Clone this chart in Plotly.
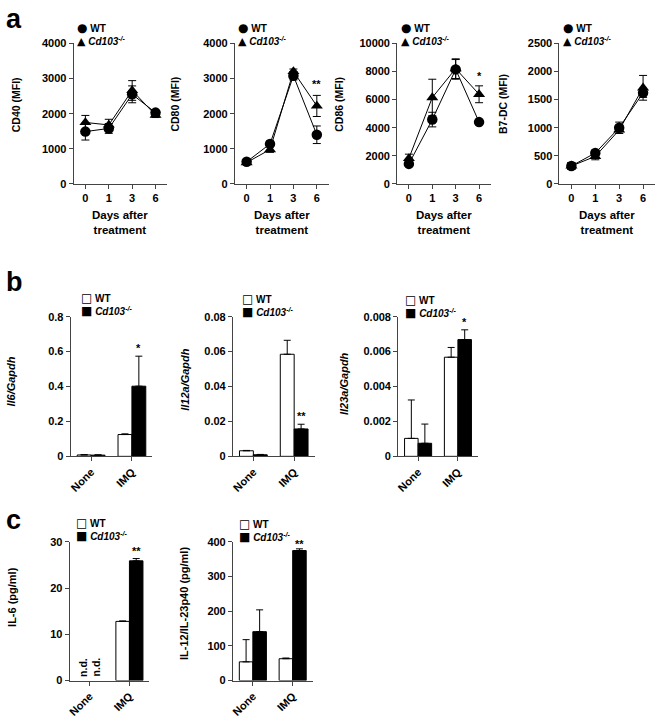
import plotly.graph_objects as go

# ---------------- data ----------------
days = ["0", "1", "3", "6"]
groups = ["None", "IMQ"]

cd40_wt = [1490, 1580, 2550, 2030]
cd40_wt_err = [240, 140, 240, 60]
cd40_ko = [1750, 1680, 2660, 1960]
cd40_ko_err = [200, 160, 280, 70]

cd80_wt = [630, 1140, 3080, 1400]
cd80_wt_err = [60, 80, 120, 250]
cd80_ko = [610, 980, 3200, 2220]
cd80_ko_err = [60, 80, 70, 300]

cd86_wt = [1430, 4580, 8150, 4400]
cd86_wt_err = [150, 520, 700, 100]
cd86_ko = [1820, 6150, 8200, 6380]
cd86_ko_err = [300, 1300, 700, 600]

b7dc_wt = [320, 550, 1000, 1620]
b7dc_wt_err = [60, 50, 100, 80]
b7dc_ko = [320, 490, 960, 1710]
b7dc_ko_err = [60, 60, 60, 220]

il6_wt = [0.008, 0.125]
il6_wt_err = [0.002, 0.004]
il6_ko = [0.007, 0.402]
il6_ko_err = [0.002, 0.172]

il12a_wt = [0.0032, 0.0585]
il12a_wt_err = [0.0002, 0.0080]
il12a_ko = [0.0009, 0.0157]
il12a_ko_err = [0.0002, 0.0027]

il23a_wt = [0.00103, 0.00568]
il23a_wt_err = [0.0022, 0.00056]
il23a_ko = [0.00075, 0.00669]
il23a_ko_err = [0.0011, 0.00056]

il6p_wt = [None, 12.8]
il6p_wt_err = [0, 0.1]
il6p_ko = [None, 25.9]
il6p_ko_err = [0, 0.5]

il12p_wt = [54, 63]
il12p_wt_err = [64, 2]
il12p_ko = [141, 375]
il12p_ko_err = [63, 5]

ticks_cd40 = [0, 1000, 2000, 3000, 4000]
ticks_cd86 = [0, 2000, 4000, 6000, 8000, 10000]
ticks_b7dc = [0, 500, 1000, 1500, 2000, 2500]
ticks_il6 = [0, 0.2, 0.4, 0.6, 0.8]
ticklab_il6 = ["0", "0.2", "0.4", "0.6", "0.8"]
ticks_il12a = [0, 0.02, 0.04, 0.06, 0.08]
ticklab_il12a = ["0", "0.02", "0.04", "0.06", "0.08"]
ticks_il23a = [0, 0.002, 0.004, 0.006, 0.008]
ticklab_il23a = ["0", "0.002", "0.004", "0.006", "0.008"]
ticks_il6p = [0, 10, 20, 30]
ticks_il12p = [0, 100, 200, 300, 400]

ytitles_line = ["CD40 (MFI)", "CD80 (MFI)", "CD86 (MFI)", "B7-DC (MFI)"]
ytitles_b = ["<i>Il6/Gapdh</i>", "<i>Il12a/Gapdh</i>", "<i>Il23a/Gapdh</i>"]
ytitles_c = ["IL-6 (pg/ml)", "IL-12/IL-23p40 (pg/ml)"]
wt_label = "WT"
ko_label = "<i>Cd103<sup>-/-</sup></i>"

# ---------------- layout helpers ----------------
W, H = 658, 719
FONT = "Liberation Sans, Arial, Helvetica, sans-serif"
AX = "#444444"


def xd(a, b):
    return [a / W, b / W]


def yd(top, bottom):
    return [1 - bottom / H, 1 - top / H]


def px(x):
    return x / W


def py(y):
    return 1 - y / H


def glyph(ch, size):
    return "<span style='font-family:DejaVu Sans;font-size:%dpx'>%s</span>" % (size, ch)


fig = go.Figure()
layout = dict(
    width=W, height=H, margin=dict(l=0, r=0, t=0, b=0),
    paper_bgcolor="white", plot_bgcolor="white",
    font=dict(family=FONT, size=11, color="black", weight="bold"),
    showlegend=False, barmode="group", bargap=0.32, bargroupgap=0,
)
annotations = []

line_panels = [
    (cd40_wt, cd40_wt_err, cd40_ko, cd40_ko_err, ticks_cd40, [str(v) for v in ticks_cd40], 71, 165),
    (cd80_wt, cd80_wt_err, cd80_ko, cd80_ko_err, ticks_cd40, [str(v) for v in ticks_cd40], 233, 327),
    (cd86_wt, cd86_wt_err, cd86_ko, cd86_ko_err, ticks_cd86, [str(v) for v in ticks_cd86], 396, 490),
    (b7dc_wt, b7dc_wt_err, b7dc_ko, b7dc_ko_err, ticks_b7dc, [str(v) for v in ticks_b7dc], 559, 655),
]
ROW_A = (38, 181)
line_title_x = [13, 173, 338, 503]

bar_panels = [
    (il6_wt, il6_wt_err, il6_ko, il6_ko_err, ticks_il6, ticklab_il6, 68, 150, (316, 458)),
    (il12a_wt, il12a_wt_err, il12a_ko, il12a_ko_err, ticks_il12a, ticklab_il12a, 231, 313, (316, 458)),
    (il23a_wt, il23a_wt_err, il23a_ko, il23a_ko_err, ticks_il23a, ticklab_il23a, 397, 477, (316, 458)),
    (il6p_wt, il6p_wt_err, il6p_ko, il6p_ko_err, ticks_il6p, [str(v) for v in ticks_il6p], 67, 147, (545, 686)),
    (il12p_wt, il12p_wt_err, il12p_ko, il12p_ko_err, ticks_il12p, [str(v) for v in ticks_il12p], 231, 311, (545, 686)),
]
bar_titles = ytitles_b + ytitles_c
bar_title_pos = [(8, 382), (182, 380), (342, 384), (9, 601), (182, 608)]
bar_legend_pos = [(76, 304), (238, 305), (402, 306), (71, 532), (235, 533)]


def axis_common():
    return dict(showline=True, linecolor=AX, linewidth=1, ticks="outside", ticklen=4,
                tickcolor=AX, tickwidth=1, showgrid=False, zeroline=False,
                tickfont=dict(family=FONT, size=11, color="black", weight="bold"))


idx = 0
for i, (wt, wte, ko, koe, tv, tt, x0, x1) in enumerate(line_panels):
    idx += 1
    s = "" if idx == 1 else str(idx)
    xa, ya = "x" + s, "y" + s
    layout["xaxis" + s] = dict(domain=xd(x0, x1), anchor=ya, type="category",
                               range=[-0.5, len(days) - 0.5], **axis_common())
    layout["yaxis" + s] = dict(domain=yd(*ROW_A), anchor=xa, range=[0, tv[-1]],
                               tickvals=tv, ticktext=tt, **axis_common())
    for vals, err, sym in ((ko, koe, "triangle-up"), (wt, wte, "circle")):
        fig.add_trace(go.Scatter(
            x=days, y=vals, mode="lines+markers", xaxis=xa, yaxis=ya,
            marker=dict(symbol=sym, size=10.5, color="black"),
            line=dict(color="black", width=1),
            error_y=dict(type="data", array=err, visible=True, color="black", thickness=1, width=4),
            cliponaxis=False, showlegend=False))
    annotations.append(dict(xref="paper", yref="paper", x=px(line_title_x[i]), y=py(100),
                            text=ytitles_line[i], textangle=-90, showarrow=False,
                            font=dict(size=10.5), xanchor="center", yanchor="middle"))
    annotations.append(dict(xref="paper", yref="paper", x=px((x0 + x1) / 2), y=py(220.5),
                            text="Days after<br>treatment", showarrow=False,
                            font=dict(size=11.5), xanchor="center", yanchor="middle"))
    annotations.append(dict(xref="paper", yref="paper", x=px(x0 + 1.5), y=py(28.5),
                            text=glyph("●", 12) + " " + wt_label + "<br>" + glyph("▲", 11) + " " + ko_label,
                            align="left", showarrow=False, font=dict(size=10),
                            xanchor="left", yanchor="middle"))

annotations.append(dict(xref="x2", yref="y2", x=3, y=cd80_ko[3] + cd80_ko_err[3], text="**",
                        showarrow=False, yanchor="bottom", yshift=3, font=dict(size=11)))
annotations.append(dict(xref="x3", yref="y3", x=3, y=cd86_ko[3] + cd86_ko_err[3], text="*",
                        showarrow=False, yanchor="bottom", yshift=2, font=dict(size=11)))

OFF = (1 - 0.32) / 4
for j, (wt, wte, ko, koe, tv, tt, x0, x1, row) in enumerate(bar_panels):
    idx += 1
    s = str(idx)
    xa, ya = "x" + s, "y" + s
    layout["xaxis" + s] = dict(domain=xd(x0, x1), anchor=ya, type="category",
                               range=[-0.5, len(groups) - 0.5], tickangle=-45, **axis_common())
    layout["yaxis" + s] = dict(domain=yd(*row), anchor=xa, range=[0, tv[-1]],
                               tickvals=tv, ticktext=tt, **axis_common())
    for vals, err, fill in ((wt, wte, "white"), (ko, koe, "black")):
        fig.add_trace(go.Bar(
            x=groups, y=vals, xaxis=xa, yaxis=ya,
            marker=dict(color=fill, line=dict(color="black", width=1)),
            error_y=dict(type="data", symmetric=False, array=err, arrayminus=[0] * len(err),
                         visible=True, color="black", thickness=1, width=3.5),
            cliponaxis=False, showlegend=False))
    tx, ty = bar_title_pos[j]
    annotations.append(dict(xref="paper", yref="paper", x=px(tx), y=py(ty), text=bar_titles[j],
                            textangle=-90, showarrow=False, font=dict(size=11),
                            xanchor="center", yanchor="middle"))
    lx, ly = bar_legend_pos[j]
    annotations.append(dict(xref="paper", yref="paper", x=px(lx), y=py(ly),
                            text=glyph("□", 12) + " " + wt_label + "<br>" + glyph("■", 12) + " " + ko_label,
                            align="left", showarrow=False, font=dict(size=10),
                            xanchor="left", yanchor="middle"))

annotations.append(dict(xref="x5", yref="y5", x=1 + OFF, y=il6_ko[1] + il6_ko_err[1], text="*",
                        showarrow=False, yanchor="bottom", font=dict(size=11)))
annotations.append(dict(xref="x6", yref="y6", x=1 + OFF, y=il12a_ko[1] + il12a_ko_err[1], text="**",
                        showarrow=False, yanchor="bottom", font=dict(size=11)))
annotations.append(dict(xref="x7", yref="y7", x=1 + OFF, y=il23a_ko[1] + il23a_ko_err[1], text="*",
                        showarrow=False, yanchor="bottom", font=dict(size=11)))
annotations.append(dict(xref="x8", yref="y8", x=1 + OFF, y=il6p_ko[1] + il6p_ko_err[1], text="**",
                        showarrow=False, yanchor="bottom", font=dict(size=11)))
annotations.append(dict(xref="x9", yref="y9", x=1 + OFF, y=il12p_ko[1] + il12p_ko_err[1], text="**",
                        showarrow=False, yanchor="bottom", font=dict(size=11), yshift=-3))
for k in (-OFF, OFF):
    annotations.append(dict(xref="x8", yref="y8", x=0 + k, y=0, text="n.d.", textangle=-90,
                            showarrow=False, yanchor="bottom", yshift=2, font=dict(size=10.5)))

for letter, yy in (("a", 13), ("b", 281), ("c", 523)):
    annotations.append(dict(xref="paper", yref="paper", x=px(1), y=py(yy), text=letter,
                            showarrow=False, xanchor="left", yanchor="middle",
                            font=dict(size=27, weight="bold")))

layout["annotations"] = annotations
fig.update_layout(**layout)
fig.write_html("out.html", config={"displayModeBar": False},
               post_script="document.body.style.margin='0';document.body.style.overflow='hidden';")
